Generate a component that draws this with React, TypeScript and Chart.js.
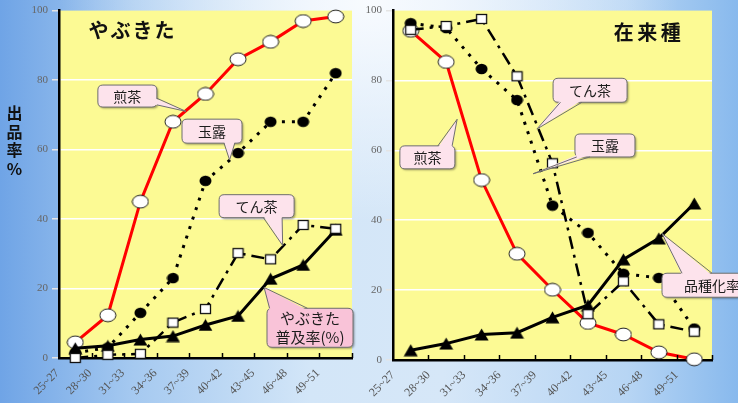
import React, { useEffect, useRef } from 'react';
import { Chart, registerables } from 'chart.js';

Chart.register(...registerables);

// ---- data ----
const periods = ['25~27', '28~30', '31~33', '34~36', '37~39', '40~42', '43~45', '46~48', '49~51'];
const yTickMax = 100;
const yTickStep = 20;

// やぶきた (left panel)
const yabuSencha = [4.5, 12.3, 45, 68, 76, 86, 91, 97, 98.3];
const yabuGyokuro = [1.5, 3, 13, 23, 51, 59, 68, 68, 82];
const yabuTencha = [0, 0.9, 1.2, 10.2, 14.1, 30.2, 28.4, 38.3, 37.2];
const yabuRate = [2.8, 3.5, 5.3, 6.3, 9.5, 12.1, 22.8, 26.8, 36.9];

// 在来種 (right panel)
const zaiSencha = [94.2, 85.3, 51.5, 30.4, 20.1, 10.6, 7.3, 2.2, 0.2];
const zaiGyokuro = [96.4, 95, 83.3, 74.4, 44.2, 36.4, 24.7, 23.5, 9];
const zaiTencha = [94.5, 95.6, 97.6, 81.2, 56.3, 13.1, 22.5, 10.2, 8.1];
const zaiRate = [2.8, 4.7, 7.3, 7.8, 12.2, 15.7, 28.8, 34.8, 44.8];

// ---- styles ----
const JP = '"Noto Sans CJK JP", "Noto Sans", sans-serif';
const SERIF = '"Liberation Serif", "DejaVu Serif", serif';
const YELLOW = '#fcfa94';
const PINK = '#fde3ec';
const PINK_STRONG = '#f9c3d8';
const BG =
  'radial-gradient(ellipse 42% 55% at 50% 0%, rgba(250,252,255,0.95), rgba(250,252,255,0) 100%),' +
  'linear-gradient(90deg, #6fa4e6 0%, #a5c9f0 18%, #d3e6f8 42%, #d6e7f8 60%, #b7d5f4 85%, #88b9ed 100%)';

type Note = {
  lines: string[];
  x: number; y: number; w: number; h: number;
  tipX: number; tipY: number;
  side: 'top' | 'bottom' | 'left' | 'right';
  b1: number; b2: number;
  fill: string;
  size?: number;
};

const leftNotes: Note[] = [
  { lines: ['煎茶'], x: 1.6, y: 75.4, w: 59, h: 22, tipX: 3.4, tipY: 71, side: 'right', b1: 0.6, b2: 0.9, fill: PINK },
  { lines: ['玉露'], x: 4.2, y: 65.3, w: 60, h: 24, tipX: 4.74, tipY: 57, side: 'bottom', b1: 0.7, b2: 0.88, fill: PINK },
  { lines: ['てん茶'], x: 5.57, y: 43.7, w: 75, h: 23, tipX: 6.37, tipY: 32.4, side: 'bottom', b1: 0.59, b2: 0.84, fill: PINK },
  { lines: ['やぶきた', '普及率(%)'], x: 7.21, y: 8.7, w: 86, h: 39, tipX: 5.8, tipY: 20.3, side: 'top', b1: 0.03, b2: 0.47, fill: PINK_STRONG, size: 15 },
];
const rightNotes: Note[] = [
  { lines: ['てん茶'], x: 5.06, y: 77.2, w: 74, h: 24, tipX: 3.56, tipY: 66.1, side: 'bottom', b1: 0.1, b2: 0.39, fill: PINK },
  { lines: ['玉露'], x: 5.48, y: 61.4, w: 60, h: 23, tipX: 3.45, tipY: 53.3, side: 'bottom', b1: 0.03, b2: 0.25, fill: PINK },
  { lines: ['煎茶'], x: 0.47, y: 58.0, w: 55, h: 23, tipX: 1.31, tipY: 68.9, side: 'top', b1: 0.69, b2: 0.95, fill: PINK },
  { lines: ['品種化率'], x: 8.5, y: 21.4, w: 100, h: 24, tipX: 7.09, tipY: 36.2, side: 'top', b1: 0.2, b2: 0.5, fill: PINK },
];

type Title = { text: string; x: number; y: number; spacing: number };
const leftTitle: Title = { text: 'やぶきた', x: 1.73, y: 94.3, spacing: 22 };
const rightTitle: Title = { text: '在来種', x: 6.67, y: 93.9, spacing: 23.5 };

function makeMarker(kind: string): HTMLCanvasElement {
  const c = document.createElement('canvas');
  const g = c.getContext('2d')!;
  if (kind === 'circle') {
    c.width = 18; c.height = 15;
    g.beginPath(); g.ellipse(9, 7.5, 8, 6.4, 0, 0, Math.PI * 2);
    g.fillStyle = '#fff'; g.fill(); g.lineWidth = 1; g.strokeStyle = '#222'; g.stroke();
  } else if (kind === 'dot') {
    c.width = 13; c.height = 12;
    g.beginPath(); g.ellipse(6.5, 6, 6, 5.2, 0, 0, Math.PI * 2);
    g.fillStyle = '#000'; g.fill();
  } else if (kind === 'square') {
    c.width = 13; c.height = 12;
    g.fillStyle = '#fff'; g.fillRect(1, 1, 11, 10);
    g.lineWidth = 1.3; g.strokeStyle = '#111'; g.strokeRect(1.5, 1.5, 10, 9);
  } else {
    c.width = 15; c.height = 13;
    g.beginPath(); g.moveTo(7.5, 0.5); g.lineTo(14.5, 12.5); g.lineTo(0.5, 12.5); g.closePath();
    g.fillStyle = '#000'; g.fill();
  }
  return c;
}

function roundRect(ctx: CanvasRenderingContext2D, x: number, y: number, w: number, h: number, r: number) {
  ctx.beginPath();
  ctx.moveTo(x + r, y);
  ctx.lineTo(x + w - r, y);
  ctx.quadraticCurveTo(x + w, y, x + w, y + r);
  ctx.lineTo(x + w, y + h - r);
  ctx.quadraticCurveTo(x + w, y + h, x + w - r, y + h);
  ctx.lineTo(x + r, y + h);
  ctx.quadraticCurveTo(x, y + h, x, y + h - r);
  ctx.lineTo(x, y + r);
  ctx.quadraticCurveTo(x, y, x + r, y);
  ctx.closePath();
}

function drawNote(chart: any, n: Note) {
  const ctx: CanvasRenderingContext2D = chart.ctx;
  const xs = chart.scales.x, ys = chart.scales.y;
  const cx = xs.getPixelForValue(n.x), cy = ys.getPixelForValue(n.y);
  const left = cx - n.w / 2, top = cy - n.h / 2;
  const tx = xs.getPixelForValue(n.tipX), ty = ys.getPixelForValue(n.tipY);
  let p1: number[], p2: number[], q1: number[], q2: number[];
  const inset = 2;
  if (n.side === 'top') {
    p1 = [left + n.b1 * n.w, top]; p2 = [left + n.b2 * n.w, top];
    q1 = [p1[0], top + inset]; q2 = [p2[0], top + inset];
  } else if (n.side === 'bottom') {
    p1 = [left + n.b1 * n.w, top + n.h]; p2 = [left + n.b2 * n.w, top + n.h];
    q1 = [p1[0], top + n.h - inset]; q2 = [p2[0], top + n.h - inset];
  } else if (n.side === 'left') {
    p1 = [left, top + n.b1 * n.h]; p2 = [left, top + n.b2 * n.h];
    q1 = [left + inset, p1[1]]; q2 = [left + inset, p2[1]];
  } else {
    p1 = [left + n.w, top + n.b1 * n.h]; p2 = [left + n.w, top + n.b2 * n.h];
    q1 = [left + n.w - inset, p1[1]]; q2 = [left + n.w - inset, p2[1]];
  }
  ctx.save();
  ctx.shadowColor = 'rgba(0,0,0,0.35)';
  ctx.shadowOffsetX = 1.5; ctx.shadowOffsetY = 1.5; ctx.shadowBlur = 2;
  roundRect(ctx, left, top, n.w, n.h, 5);
  ctx.fillStyle = n.fill; ctx.fill();
  ctx.shadowColor = 'transparent';
  ctx.lineWidth = 1; ctx.strokeStyle = '#6e6e6e'; ctx.stroke();
  ctx.beginPath();
  ctx.moveTo(q1[0], q1[1]); ctx.lineTo(tx, ty); ctx.lineTo(q2[0], q2[1]); ctx.closePath();
  ctx.fillStyle = n.fill; ctx.fill();
  ctx.beginPath();
  ctx.moveTo(p1[0], p1[1]); ctx.lineTo(tx, ty); ctx.lineTo(p2[0], p2[1]);
  ctx.strokeStyle = '#6e6e6e'; ctx.stroke();
  const size = n.size || 14;
  ctx.font = `${size}px ${JP}`;
  ctx.fillStyle = '#1c1c1c';
  ctx.textAlign = 'center'; ctx.textBaseline = 'middle';
  const lh = size + 4;
  n.lines.forEach((t, i) => {
    ctx.fillText(t, cx, cy + (i - (n.lines.length - 1) / 2) * lh + 0.5);
  });
  ctx.restore();
}

function drawTitle(chart: any, t: Title) {
  const ctx: CanvasRenderingContext2D = chart.ctx;
  const cx = chart.scales.x.getPixelForValue(t.x), cy = chart.scales.y.getPixelForValue(t.y);
  const chars = Array.from(t.text);
  ctx.save();
  ctx.font = `bold 20px ${JP}`;
  ctx.fillStyle = '#111';
  ctx.textAlign = 'center'; ctx.textBaseline = 'middle';
  chars.forEach((c, i) => {
    ctx.fillText(c, cx + (i - (chars.length - 1) / 2) * t.spacing, cy);
  });
  ctx.restore();
}

function decorPlugin(notes: Note[], title: Title, yTitle: boolean) {
  return {
    id: 'decor',
    beforeDraw(chart: any) {
      const { ctx, chartArea: a } = chart;
      ctx.save();
      ctx.fillStyle = YELLOW;
      ctx.fillRect(a.left, a.top, a.right - a.left, a.bottom - a.top);
      ctx.restore();
    },
    afterDatasetsDraw(chart: any) {
      const ctx: CanvasRenderingContext2D = chart.ctx;
      const xs = chart.scales.x;
      const a = chart.chartArea;
      ctx.save();
      ctx.strokeStyle = '#000'; ctx.lineWidth = 1.5;
      for (let i = 0; i < periods.length; i++) {
        const px = Math.round(xs.getPixelForValue(i + 0.5)) + 0.5;
        ctx.beginPath(); ctx.moveTo(px, a.bottom); ctx.lineTo(px, a.bottom - 5); ctx.stroke();
      }
      ctx.restore();
      // rotated category labels, centred below the tick boundary
      ctx.save();
      ctx.font = `12px ${SERIF}`;
      ctx.fillStyle = '#555';
      ctx.textAlign = 'center'; ctx.textBaseline = 'middle';
      periods.forEach((p, i) => {
        const px = xs.getPixelForValue(i);
        ctx.save();
        ctx.translate(px - 28.5, a.bottom + 24);
        ctx.rotate(-Math.PI / 4);
        ctx.fillText(p, 0, 0);
        ctx.restore();
      });
      ctx.restore();
      notes.forEach((n) => drawNote(chart, n));
      drawTitle(chart, title);
      if (yTitle) {
        ctx.save();
        ctx.font = `bold 16px ${JP}`;
        ctx.fillStyle = '#111';
        ctx.textAlign = 'center'; ctx.textBaseline = 'middle';
        const chars = ['出', '品', '率', '%'];
        const y0 = chart.scales.y.getPixelForValue(70.5);
        chars.forEach((c, i) => ctx.fillText(c, 14.5, y0 + i * 18.5));
        ctx.restore();
      }
    },
  };
}

function buildConfig(
  data: { sencha: number[]; gyokuro: number[]; tencha: number[]; rate: number[]; rateLabel: string },
  m: Record<string, HTMLCanvasElement>,
  layout: { yWidth: number; xHeight: number; padRight: number },
  notes: Note[], title: Title, yTitle: boolean,
): any {
  const base = { fill: false, tension: 0, pointRadius: 7, backgroundColor: 'transparent', clip: false as any };
  return {
    type: 'line',
    data: {
      labels: periods,
      datasets: [
        { ...base, label: '煎茶', data: data.sencha, borderColor: '#ff0000', borderWidth: 3, pointStyle: m.circle, order: 3 },
        { ...base, label: '玉露', data: data.gyokuro, borderColor: '#000', borderWidth: 3, borderDash: [3, 7], pointStyle: m.dot, order: 2 },
        { ...base, label: 'てん茶', data: data.tencha, borderColor: '#000', borderWidth: 2.5, borderDash: [13, 6, 3, 6], pointStyle: m.square, order: 0 },
        { ...base, label: data.rateLabel, data: data.rate, borderColor: '#000', borderWidth: 3, pointStyle: m.tri, order: 1 },
      ],
    },
    options: {
      responsive: false,
      animation: false,
      events: [],
      layout: { padding: { left: 0, top: 9, right: layout.padRight, bottom: 0 } },
      plugins: { legend: { display: false }, tooltip: { enabled: false } },
      scales: {
        x: {
          type: 'category',
          offset: true,
          grid: { display: true, drawOnChartArea: false, drawTicks: false },
          border: { display: true, color: '#000', width: 2.5 },
          ticks: { display: false },
          afterFit: (s: any) => { s.height = layout.xHeight; },
        },
        y: {
          min: 0, max: yTickMax,
          grid: {
            color: (c: any) => (c.tick && (c.tick.value === 0 || c.tick.value === yTickMax) ? 'rgba(0,0,0,0)' : '#ffffff'),
            lineWidth: 1.5, tickLength: 7, tickColor: '#e4e4e4',
          },
          border: { display: true, color: '#000', width: 2.5 },
          ticks: { stepSize: yTickStep, padding: 4, color: '#666', font: { family: SERIF, size: 11 } },
          afterFit: (s: any) => { s.width = layout.yWidth; },
        },
      },
    },
    plugins: [decorPlugin(notes, title, yTitle)],
  };
}

export default function App() {
  const leftRef = useRef<HTMLCanvasElement>(null);
  const rightRef = useRef<HTMLCanvasElement>(null);
  useEffect(() => {
    document.body.style.margin = '0';
    const m = { circle: makeMarker('circle'), dot: makeMarker('dot'), square: makeMarker('square'), tri: makeMarker('tri') };
    const c1 = new Chart(
      leftRef.current!,
      buildConfig(
        { sencha: yabuSencha, gyokuro: yabuGyokuro, tencha: yabuTencha, rate: yabuRate, rateLabel: 'やぶきた普及率(%)' },
        m, { yWidth: 59, xHeight: 45, padRight: 4 }, leftNotes, leftTitle, true,
      ),
    );
    const c2 = new Chart(
      rightRef.current!,
      buildConfig(
        { sencha: zaiSencha, gyokuro: zaiGyokuro, tencha: zaiTencha, rate: zaiRate, rateLabel: '品種化率' },
        m, { yWidth: 31, xHeight: 43, padRight: 26 }, rightNotes, rightTitle, false,
      ),
    );
    return () => { c1.destroy(); c2.destroy(); };
  }, []);
  return (
    <div style={{ position: 'absolute', left: 0, top: 0, width: 738, height: 403, overflow: 'hidden', background: BG }}>
      <canvas ref={leftRef} width={362} height={403} style={{ position: 'absolute', left: 0, top: 0 }} />
      <canvas ref={rightRef} width={376} height={403} style={{ position: 'absolute', left: 362, top: 0 }} />
    </div>
  );
}
